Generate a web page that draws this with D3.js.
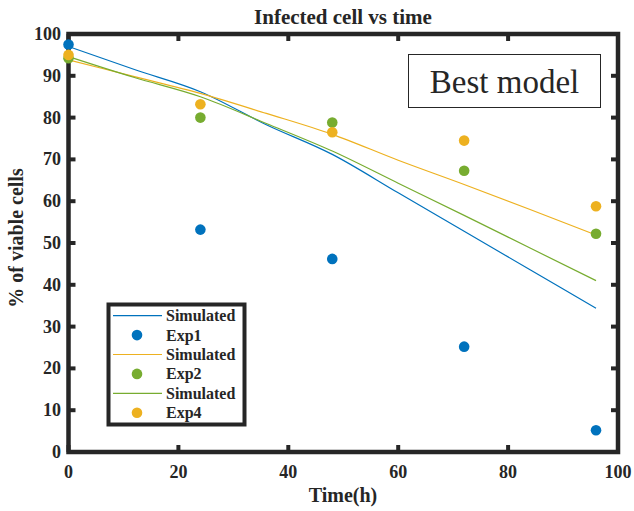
<!DOCTYPE html>
<html><head><meta charset="utf-8">
<script src="https://cdn.jsdelivr.net/npm/d3@7"></script>
<style>body{margin:0;background:#fff}svg{display:block}text{font-family:"Liberation Serif","Times New Roman",serif;fill:#262626}</style>
</head><body><svg id="c" width="634" height="511"></svg>
<script>
const timesExp = [0, 24, 48, 72, 96];
const exp1 = [97.5, 53.2, 46.2, 25.2, 5.2];
const exp2 = [94.2, 80.0, 78.8, 67.3, 52.2];
const exp4 = [95.0, 83.2, 76.5, 74.5, 58.8];
const timesSim = [0, 12, 24, 36, 48, 60, 72, 84, 96];
const sim1 = [97.0, 91.5, 86.2, 78.3, 71.2, 62.0, 52.8, 43.6, 34.4];
const sim2 = [93.8, 89.8, 85.8, 81.0, 76.0, 69.8, 64.0, 58.0, 51.9];
const sim3 = [94.6, 89.6, 85.0, 78.6, 72.0, 64.3, 56.6, 48.8, 41.0];
const xTicks = [0, 20, 40, 60, 80, 100];
const yTicks = [0, 10, 20, 30, 40, 50, 60, 70, 80, 90, 100];
const legendLabels = ["Simulated", "Exp1", "Simulated", "Exp2", "Simulated", "Exp4"];
const cBlue = "#0072BD", cYel = "#EDB120", cGrn = "#77AC30";

const svg = d3.select("#c");
const x = d3.scaleLinear().domain([0, 100]).range([68.5, 618]);
const y = d3.scaleLinear().domain([0, 100]).range([452, 34]);
const ink = "#262626";

// ticks
const tk = 7;
const g = svg.append("g");
g.selectAll(".xb").data(xTicks).join("line").attr("x1", d => x(d)).attr("x2", d => x(d))
  .attr("y1", y(0)).attr("y2", y(0) - tk).attr("stroke", ink).attr("stroke-width", 4);
g.selectAll(".xt").data(xTicks).join("line").attr("x1", d => x(d)).attr("x2", d => x(d))
  .attr("y1", y(100)).attr("y2", y(100) + tk).attr("stroke", ink).attr("stroke-width", 4);
g.selectAll(".yl").data(yTicks).join("line").attr("y1", d => y(d)).attr("y2", d => y(d))
  .attr("x1", x(0)).attr("x2", x(0) + tk).attr("stroke", ink).attr("stroke-width", 4);
g.selectAll(".yr").data(yTicks).join("line").attr("y1", d => y(d)).attr("y2", d => y(d))
  .attr("x1", x(100)).attr("x2", x(100) - tk).attr("stroke", ink).attr("stroke-width", 4);
g.append("rect").attr("x", x(0)).attr("y", y(100)).attr("width", x(100) - x(0)).attr("height", y(0) - y(100))
  .attr("fill", "none").attr("stroke", ink).attr("stroke-width", 4.5);

// tick labels
g.selectAll(".xl").data(xTicks).join("text").attr("x", d => x(d)).attr("y", 478)
  .attr("text-anchor", "middle").attr("font-size", 18).attr("font-weight", "bold").text(d => d);
g.selectAll(".ylab").data(yTicks).join("text").attr("x", 61).attr("y", d => y(d) + 6)
  .attr("text-anchor", "end").attr("font-size", 18).attr("font-weight", "bold").text(d => d);

// labels
svg.append("text").attr("x", 343).attr("y", 24).attr("text-anchor", "middle")
  .attr("font-size", 21).attr("font-weight", "bold").text("Infected cell vs time");
svg.append("text").attr("x", 343).attr("y", 502).attr("text-anchor", "middle")
  .attr("font-size", 20).attr("font-weight", "bold").text("Time(h)");
svg.append("text").attr("transform", "translate(23,238) rotate(-90)").attr("text-anchor", "middle")
  .attr("font-size", 20).attr("font-weight", "bold").text("% of viable cells");

// lines
const line = d3.line().x(d => x(d[0])).y(d => y(d[1])).curve(d3.curveMonotoneX);
[[sim1, cBlue], [sim2, cYel], [sim3, cGrn]].forEach(([s, c]) => {
  svg.append("path").attr("d", line(timesSim.map((t, i) => [t, s[i]])))
    .attr("fill", "none").attr("stroke", c).attr("stroke-width", 1.2);
});
// points
[[exp1, cBlue], [exp2, cGrn], [exp4, cYel]].forEach(([s, c]) => {
  svg.append("g").selectAll("circle").data(timesExp.map((t, i) => [t, s[i]])).join("circle")
    .attr("cx", d => x(d[0])).attr("cy", d => y(d[1])).attr("r", 5.3).attr("fill", c);
});

// Best model box
svg.append("rect").attr("x", 408.5).attr("y", 54.5).attr("width", 192).attr("height", 53)
  .attr("fill", "#fff").attr("stroke", ink).attr("stroke-width", 1);
svg.append("text").attr("x", 504.5).attr("y", 93).attr("text-anchor", "middle")
  .attr("font-size", 33).attr("fill", "#000").text("Best model");

// legend
const lg = svg.append("g");
lg.append("rect").attr("x", 108.5).attr("y", 304.5).attr("width", 136).attr("height", 120)
  .attr("fill", "#fff").attr("stroke", ink).attr("stroke-width", 4);
const legendColors = [cBlue, cBlue, cYel, cGrn, cGrn, cYel];
const legendKinds = ["line", "dot", "line", "dot", "line", "dot"];
const rowY = d3.scaleLinear().domain([0, 5]).range([315.7, 412.7]);
legendLabels.forEach((lab, i) => {
  const yy = rowY(i);
  if (legendKinds[i] === "line") {
    lg.append("line").attr("x1", 113).attr("x2", 162).attr("y1", yy).attr("y2", yy)
      .attr("stroke", legendColors[i]).attr("stroke-width", 1.2);
  } else {
    lg.append("circle").attr("cx", 137).attr("cy", yy).attr("r", 5.3).attr("fill", legendColors[i]);
  }
  lg.append("text").attr("x", 166).attr("y", yy + 5.5).attr("font-size", 16).attr("font-weight", "bold").text(lab);
});
</script></body></html>
